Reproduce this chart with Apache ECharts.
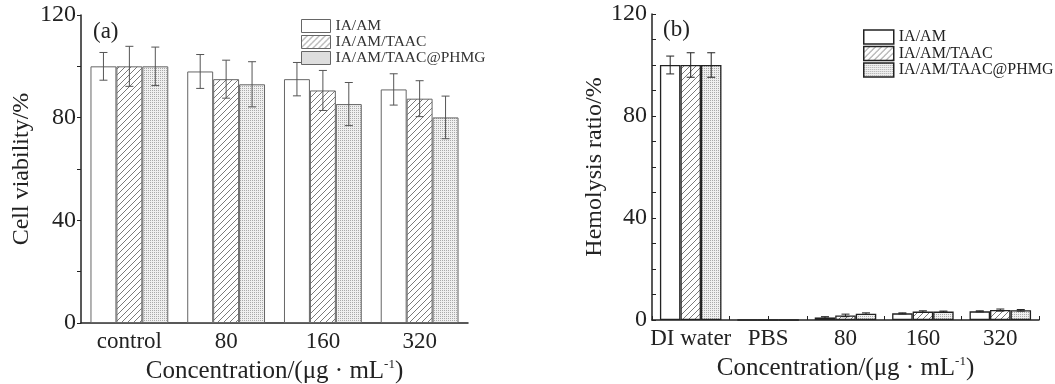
<!DOCTYPE html>
<html>
<head>
<meta charset="utf-8">
<script src="https://cdn.jsdelivr.net/npm/echarts@6/dist/echarts.min.js"></script>
<style>
  html, body { margin: 0; padding: 0; background: #fff; }
  #chart { width: 1055px; height: 384px; }
</style>
</head>
<body>
<div id="chart"></div>
<script>
// (a) cell viability
const categoriesA = ['control', '80', '160', '320'];
const viabAM = [100, 98, 95, 91];
const viabTAAC = [100, 95, 90.6, 87.4];
const viabPHMG = [100, 93, 85.3, 80.1];
const viabAMErr = [5.4, 6.6, 6.5, 6.1];
const viabTAACErr = [7.8, 7.4, 7.8, 7.0];
const viabPHMGErr = [7.5, 8.8, 8.4, 8.3];

// (b) hemolysis ratio
const categoriesB = ['DI water', 'PBS', '80', '160', '320'];
const hemoAM = [100, 0, 1.0, 2.6, 3.4];
const hemoTAAC = [100, 0, 1.8, 3.3, 3.9];
const hemoPHMG = [100, 0, 2.5, 3.3, 3.8];
const hemoAMErr = [3.5, 0, 0.3, 0.2, 0.2];
const hemoTAACErr = [4.8, 0, 0.5, 0.3, 0.4];
const hemoPHMGErr = [4.8, 0, 0.3, 0.2, 0.3];

const seriesNames = ['IA/AM', 'IA/AM/TAAC', 'IA/AM/TAAC@PHMG'];
const yTicks = [0, 40, 80, 120];

const FONT = '"Liberation Serif", "DejaVu Serif", serif';

function hatchPattern(color) {
  const c = document.createElement('canvas');
  c.width = 6; c.height = 6;
  const ctx = c.getContext('2d');
  ctx.fillStyle = '#fff';
  ctx.fillRect(0, 0, 6, 6);
  ctx.strokeStyle = color;
  ctx.lineWidth = 1;
  ctx.beginPath();
  ctx.moveTo(0, 6); ctx.lineTo(6, 0);
  ctx.moveTo(-1, 1); ctx.lineTo(1, -1);
  ctx.moveTo(5, 7); ctx.lineTo(7, 5);
  ctx.stroke();
  return { image: c, repeat: 'repeat' };
}

function dotPattern() {
  const c = document.createElement('canvas');
  c.width = 2; c.height = 2;
  const ctx = c.getContext('2d');
  ctx.fillStyle = '#f0f0f0';
  ctx.fillRect(0, 0, 2, 2);
  ctx.fillStyle = '#aaaaaa';
  ctx.fillRect(0, 0, 1, 1);
  return { image: c, repeat: 'repeat' };
}

const fills = ['#ffffff', hatchPattern('#7a7a7a'), dotPattern()];

function bars(gridIdx, values, k, border, bw, widthPct) {
  return {
    name: seriesNames[k],
    type: 'bar',
    xAxisIndex: gridIdx === 0 ? 0 : 1,
    yAxisIndex: gridIdx,
    data: values,
    barWidth: widthPct,
    barGap: '0%',
    itemStyle: { color: fills[k], borderColor: border, borderWidth: bw },
    emphasis: { disabled: true },
    z: 2
  };
}

function errBars(gridIdx, values, errs, k, color, widthFrac) {
  return {
    type: 'custom',
    xAxisIndex: gridIdx === 0 ? 0 : 1,
    yAxisIndex: gridIdx,
    z: 5,
    silent: true,
    data: values.map((v, i) => [i, v, errs[i]]),
    renderItem: function (params, api) {
      const i = api.value(0), v = api.value(1), e = api.value(2);
      if (!e) return null;
      const band = api.size([1, 0])[0];
      const dx = band * widthFrac * (k - 1);
      const top = api.coord([i, v + e]);
      const bot = api.coord([i, v - e]);
      const x = top[0] + dx;
      const cap = 4;
      const style = { stroke: color, lineWidth: 1, fill: null };
      return {
        type: 'group',
        children: [
          { type: 'line', shape: { x1: x, y1: top[1], x2: x, y2: bot[1] }, style: style },
          { type: 'line', shape: { x1: x - cap, y1: top[1], x2: x + cap, y2: top[1] }, style: style },
          { type: 'line', shape: { x1: x - cap, y1: bot[1], x2: x + cap, y2: bot[1] }, style: style }
        ]
      };
    }
  };
}

const axisNameRich = {
  t: { fontFamily: FONT, fontSize: 25, color: '#222', lineHeight: 28 },
  sup: { fontFamily: FONT, fontSize: 13, color: '#222', verticalAlign: 'top', lineHeight: 28 }
};
const xName = '{t|Concentration/(μg · mL}{sup|-1}{t|)}';

const chart = echarts.init(document.getElementById('chart'));

chart.setOption({
  animation: false,
  backgroundColor: '#fff',
  grid: [
    { left: 81, top: 15, width: 387, height: 308, outerBoundsMode: 'none' },
    { left: 652, top: 14, width: 387, height: 306, outerBoundsMode: 'none' }
  ],
  legend: [
    {
      orient: 'vertical', left: 301, top: 18, padding: 0, icon: 'rect',
      itemWidth: 29, itemHeight: 13, itemGap: 0,
      textStyle: { fontFamily: FONT, fontSize: 15.5, color: '#333', lineHeight: 14 },
      data: seriesNames.map((n) => ({ name: n, itemStyle: { borderColor: '#666', borderWidth: 1 } })),
      selectedMode: false
    },
    {
      orient: 'vertical', left: 863, top: 29, padding: 0, icon: 'rect',
      itemWidth: 30, itemHeight: 14, itemGap: 0.5,
      textStyle: { fontFamily: FONT, fontSize: 16, color: '#222', lineHeight: 14 },
      data: seriesNames.map((n) => ({ name: n, itemStyle: { borderColor: '#222', borderWidth: 1.5 } })),
      selectedMode: false
    }
  ],
  xAxis: [
    {
      gridIndex: 0, type: 'category', data: categoriesA,
      axisLine: { lineStyle: { color: '#222', width: 1.5 } },
      axisTick: { show: true, inside: true, length: 3, alignWithLabel: true, lineStyle: { color: '#222' } },
      axisLabel: { fontFamily: FONT, fontSize: 23, color: '#222', margin: 7, interval: 0 },
      name: xName, nameLocation: 'middle', nameGap: 31,
      nameTextStyle: { rich: axisNameRich }
    },
    {
      gridIndex: 1, type: 'category', data: categoriesB,
      axisLine: { lineStyle: { color: '#222', width: 1.5 } },
      axisTick: { show: false },
      axisLabel: { fontFamily: FONT, fontSize: 23, color: '#222', margin: 7, interval: 0 },
      name: xName, nameLocation: 'middle', nameGap: 30,
      nameTextStyle: { rich: axisNameRich }
    },
    {
      // half-category tick marks on panel (b)
      gridIndex: 1, type: 'category', boundaryGap: false,
      data: Array(categoriesB.length * 2 + 1).fill(''),
      position: 'bottom',
      axisLine: { show: false },
      axisTick: { show: true, inside: true, length: 4, interval: 0, lineStyle: { color: '#222' } },
      axisLabel: { show: false }
    }
  ],
  yAxis: [
    {
      gridIndex: 0, type: 'value', min: 0, max: 120, interval: 20,
      name: 'Cell viability/%', nameLocation: 'middle', nameGap: 47,
      nameTextStyle: { fontFamily: FONT, fontSize: 24, color: '#222' },
      axisLine: { show: true, lineStyle: { color: '#222', width: 1.5 } },
      axisTick: { show: true, length: 4, lineStyle: { color: '#222' } },
      axisLabel: {
        fontFamily: FONT, fontSize: 24, color: '#222', margin: 5,
        formatter: (v) => (yTicks.includes(v) ? String(v) : '')
      },
      splitLine: { show: false }
    },
    {
      gridIndex: 1, type: 'value', min: 0, max: 120, interval: 10,
      name: 'Hemolysis ratio/%', nameLocation: 'middle', nameGap: 43,
      nameTextStyle: { fontFamily: FONT, fontSize: 24, color: '#222' },
      axisLine: { show: true, lineStyle: { color: '#222', width: 1.5 } },
      axisTick: { show: true, inside: true, length: 4, lineStyle: { color: '#222' } },
      axisLabel: {
        fontFamily: FONT, fontSize: 24, color: '#222', margin: 5,
        formatter: (v) => (yTicks.includes(v) ? String(v) : '')
      },
      splitLine: { show: false }
    }
  ],
  graphic: [
    { type: 'text', left: 93, top: 20, style: { text: '(a)', font: '23px ' + FONT, fill: '#222' } },
    { type: 'text', left: 663, top: 18, style: { text: '(b)', font: '23px ' + FONT, fill: '#222' } }
  ],
  series: [
    bars(0, viabAM, 0, '#666', 1, '26.8%'),
    bars(0, viabTAAC, 1, '#666', 1, '26.8%'),
    bars(0, viabPHMG, 2, '#666', 1, '26.8%'),
    errBars(0, viabAM, viabAMErr, 0, '#555', 0.268),
    errBars(0, viabTAAC, viabTAACErr, 1, '#555', 0.268),
    errBars(0, viabPHMG, viabPHMGErr, 2, '#555', 0.268),
    bars(1, hemoAM, 0, '#222', 1.3, '26.5%'),
    bars(1, hemoTAAC, 1, '#222', 1.3, '26.5%'),
    bars(1, hemoPHMG, 2, '#222', 1.3, '26.5%'),
    errBars(1, hemoAM, hemoAMErr, 0, '#222', 0.265),
    errBars(1, hemoTAAC, hemoTAACErr, 1, '#222', 0.265),
    errBars(1, hemoPHMG, hemoPHMGErr, 2, '#222', 0.265)
  ]
});

window.addEventListener('resize', () => chart.resize());
</script>
</body>
</html>
